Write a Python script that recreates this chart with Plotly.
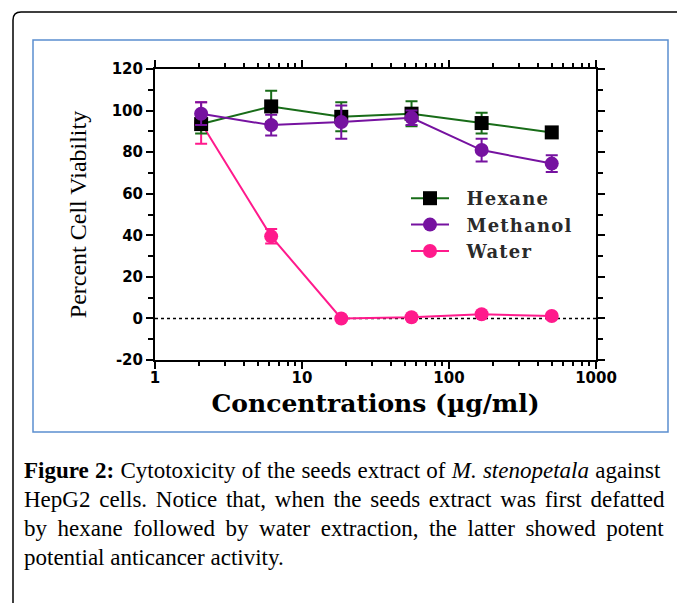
import plotly.graph_objects as go

# concentrations (ug/ml), 3-fold dilution series
conc = [2.06, 6.17, 18.5, 55.6, 166.7, 500]

hexane = [93.5, 102, 97, 98.5, 94, 89.5]
hexane_err = [4.5, 7.5, 7, 6, 5, 1]

methanol = [98.5, 93, 94.5, 96.5, 81, 74.5]
methanol_err = [5.5, 5, 8, 3.5, 5.5, 4]

water = [94, 39.5, 0, 0.6, 2, 1.2]
water_err = [10, 3.5, 0.5, 0.5, 0.5, 0.5]

x_ticks = [1, 10, 100, 1000]
x_ticktext = ['1', '10', '100', '1000']
y_ticks = [-20, 0, 20, 40, 60, 80, 100, 120]
y_ticktext = ['-20', '0', '20', '40', '60', '80', '100', '120']

caption_lines = [
    '<b>Figure 2:</b> Cytotoxicity of the seeds extract of <i>M. stenopetala</i> against',
    'HepG2 cells. Notice that, when the seeds extract was first defatted',
    'by hexane followed by water extraction, the latter showed potent',
    'potential anticancer activity.',
]

GREEN = '#186c18'
PURPLE = '#7612a0'
PINK = '#ff1a8c'

# plot area in pixels
L, R, T, B = 155, 596, 69, 360
W, H = R - L, B - T


def fx(px):
    return (px - L) / W


def fy(py):
    return (B - py) / H


def _trace(name, y, err, color, symbol, size, marker_color, rank):
    return go.Scatter(
        name='&nbsp;&nbsp;<span style="letter-spacing:1.2px">{}</span>'.format(name),
        x=conc,
        y=y,
        mode='lines+markers',
        line={'color': color, 'width': 2},
        marker={'symbol': symbol, 'size': size, 'color': marker_color},
        error_y={'type': 'data', 'array': err, 'visible': True,
                 'color': color, 'thickness': 2, 'width': 6},
        legendrank=rank)


fig = go.Figure()
fig.add_trace(_trace('Water', water, water_err, PINK, 'circle', 14, PINK, 3))
fig.add_trace(_trace('Hexane', hexane, hexane_err, GREEN, 'square', 14, 'black', 1))
fig.add_trace(_trace('Methanol', methanol, methanol_err, PURPLE, 'circle', 14, PURPLE, 2))

tick_font = {'family': 'DejaVu Sans', 'size': 15, 'color': 'black', 'weight': 'bold'}

fig.update_xaxes(
    type='log', range=[0, 3],
    tickvals=x_ticks, ticktext=x_ticktext,
    ticks='outside', ticklen=7, tickwidth=2, tickcolor='black',
    minor={'ticks': 'outside', 'ticklen': 4, 'tickwidth': 2, 'tickcolor': 'black', 'dtick': 'D1'},
    showline=True, linewidth=2, linecolor='black', mirror='ticks',
    showgrid=False, zeroline=False,
    tickfont=tick_font, ticklabelstandoff=-4,
    title={'text': 'Concentrations (µg/ml)', 'standoff': 8,
           'font': {'family': 'DejaVu Serif', 'size': 25, 'color': 'black', 'weight': 'bold'}})

fig.update_yaxes(
    range=[-20, 120], tickvals=y_ticks, ticktext=y_ticktext,
    ticks='outside', ticklen=7, tickwidth=2, tickcolor='black',
    minor={'ticks': 'outside', 'ticklen': 5, 'tickwidth': 2, 'tickcolor': 'black', 'dtick': 10},
    showline=True, linewidth=2, linecolor='black', mirror='ticks',
    showgrid=False, zeroline=False,
    tickfont=tick_font,
    title={'text': 'Percent Cell Viability', 'standoff': 18,
           'font': {'family': 'Liberation Serif', 'size': 24, 'color': 'black'}})

shapes = [
    # outer page frame with rounded corner
    {'type': 'path', 'xref': 'paper', 'yref': 'paper',
     'path': 'M {0},{1} L {0},{2} Q {0},{3} {4},{3} L {5},{3}'.format(
         fx(13), fy(620), fy(20), fy(12), fx(21), fx(700)),
     'line': {'color': 'black', 'width': 1.5}},
    # blue figure box
    {'type': 'rect', 'xref': 'paper', 'yref': 'paper',
     'x0': fx(33), 'x1': fx(668), 'y0': fy(432), 'y1': fy(40),
     'line': {'color': '#5b8fd0', 'width': 1.5}},
    # dotted zero line
    {'type': 'line', 'xref': 'paper', 'yref': 'y',
     'x0': 0, 'x1': 1, 'y0': 0, 'y1': 0, 'layer': 'below',
     'line': {'color': 'black', 'width': 1.5, 'dash': 'dot'}},
]

spacing = ['word-spacing:0.5px', 'word-spacing:3px', 'word-spacing:4.8px', 'word-spacing:0px']
annotations = []
for i, (line, sp) in enumerate(zip(caption_lines, spacing)):
    annotations.append(dict(
        xref='paper', yref='paper', x=fx(22), y=fy(470 + 29 * i),
        xanchor='left', yanchor='middle', showarrow=False,
        text='<span style="{}">{}</span>'.format(sp, line),
        font={'family': 'Liberation Serif', 'size': 23, 'color': 'black'}))

fig.update_layout(
    width=677, height=603,
    margin={'l': L, 'r': 677 - R, 't': T, 'b': 603 - B},
    paper_bgcolor='white', plot_bgcolor='white',
    shapes=shapes, annotations=annotations,
    legend={'x': fx(406), 'y': fy(180), 'xanchor': 'left', 'yanchor': 'top',
            'bgcolor': 'rgba(0,0,0,0)', 'itemwidth': 38, 'tracegroupgap': 0,
            'font': {'family': 'DejaVu Serif', 'size': 18, 'color': '#2a2a2a', 'weight': 'bold'}},
    showlegend=True)

# drop the default 8px page margin so the figure sits at the window origin
fig.write_html('out.html', config={'displayModeBar': False},
               post_script="document.body.style.margin='0px';")
